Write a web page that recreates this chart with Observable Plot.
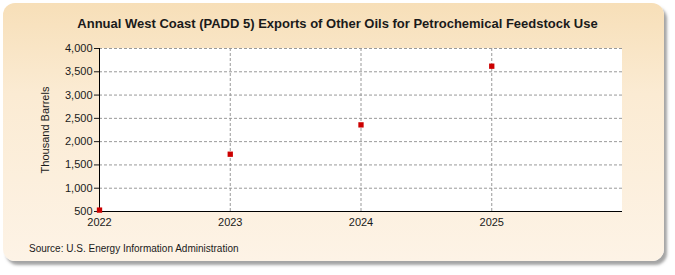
<!DOCTYPE html>
<html>
<head>
<meta charset="utf-8">
<script src="https://cdn.jsdelivr.net/npm/d3@7"></script>
<script src="https://cdn.jsdelivr.net/npm/@observablehq/plot@0.6"></script>
<style>
  html, body { margin: 0; padding: 0; background: #ffffff; }
  #wrap { position: relative; width: 675px; height: 275px; overflow: hidden; font-family: "Liberation Sans", Arial, sans-serif; }
  #frame { position: absolute; left: 3px; top: 3px; width: 661px; height: 258px; border-radius: 12px;
    background: linear-gradient(to bottom, #f7dfb8 0%, #fbebd3 35%, #fdf3e6 100%);
    box-shadow: 3px 4px 3px rgba(90,90,90,0.55); }
  #plotbg { position: absolute; left: 99px; top: 48px; width: 523px; height: 163px; background: #ffffff; }
  #title { position: absolute; left: 0; width: 675px; top: 16px; text-align: center; font-weight: bold; font-size: 13px; color: #1a1a1a; }
  #source { position: absolute; left: 29px; top: 243px; font-size: 10px; color: #1a1a1a; }
  #chart { position: absolute; left: 0; top: 0; }
</style>
</head>
<body>
<div id="wrap">
  <div id="frame"></div>
  <div id="plotbg"></div>
  <div id="title">Annual West Coast (PADD 5) Exports of Other Oils for Petrochemical Feedstock Use</div>
  <div id="chart"></div>
  <div id="source">Source: U.S. Energy Information Administration</div>
</div>
<script>
const years = [2022, 2023, 2024, 2025];
const exportsKbbl = [530, 1730, 2360, 3620];
const yTicks = [500, 1000, 1500, 2000, 2500, 3000, 3500, 4000];
const xTicks = [2022, 2023, 2024, 2025];
const yLabel = "Thousand Barrels";

const data = years.map((y, i) => ({year: y, value: exportsKbbl[i]}));

const chart = Plot.plot({
  width: 675,
  height: 275,
  marginLeft: 99,
  marginRight: 53,
  marginTop: 48,
  marginBottom: 64,
  style: {background: "transparent", fontFamily: "'Liberation Sans', Arial, sans-serif", fontSize: "11px", color: "#1a1a1a"},
  x: {type: "linear", domain: [2022, 2026], ticks: xTicks, tickFormat: d => String(d)},
  y: {domain: [500, 4000], ticks: yTicks, tickFormat: d3.format(",")},
  marks: [
    Plot.gridX(xTicks, {stroke: "#999", strokeOpacity: 1, strokeDasharray: "3,2"}),
    Plot.gridY(yTicks, {stroke: "#999", strokeOpacity: 1, strokeDasharray: "3,2"}),
    Plot.axisY({ticks: yTicks, tickFormat: d3.format(","), tickSize: 5, tickPadding: 2, label: null, fontSize: 11}),
    Plot.axisX({ticks: xTicks, tickFormat: d => String(d), tickSize: 0, tickPadding: 7, label: null, fontSize: 11}),
    Plot.text([yLabel], {frameAnchor: "left", textAnchor: "middle", dx: -54, rotate: -90, fontSize: 11, fill: "#1a1a1a"}),
    Plot.ruleX([2022], {stroke: "#000"}),
    Plot.ruleY([500], {stroke: "#000"}),
    Plot.dot(data, {x: "year", y: "value", symbol: "square", r: 3, fill: "#cc0000", stroke: "none"})
  ]
});
document.getElementById("chart").appendChild(chart);
</script>
</body>
</html>
